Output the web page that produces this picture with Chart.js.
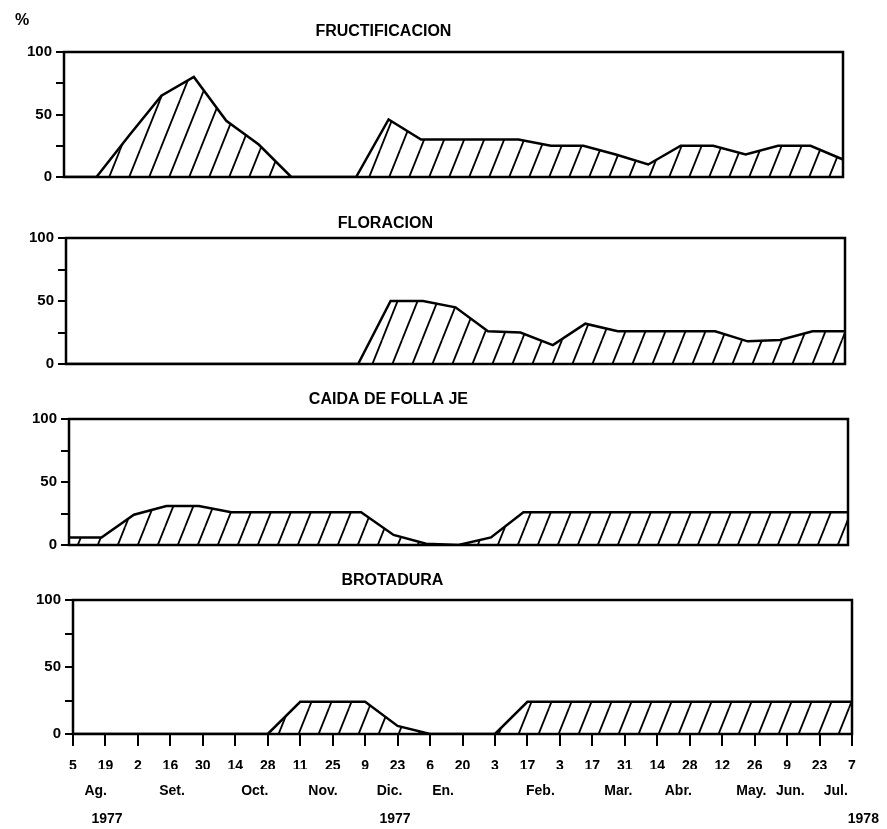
<!DOCTYPE html>
<html><head><meta charset="utf-8">
<script src="https://cdn.jsdelivr.net/npm/chart.js@4.4.1/dist/chart.umd.min.js"></script>
<style>
html,body{margin:0;padding:0;background:#fff;overflow:hidden;width:887px;height:829px;}
.p{position:absolute;width:887px;}
</style></head><body>
<div class="p" id="c0"><canvas id="k0"></canvas></div>
<div class="p" id="c1"><canvas id="k1"></canvas></div>
<div class="p" id="c2"><canvas id="k2"></canvas></div>
<div class="p" id="c3"><canvas id="k3"></canvas></div>
<script>
// ---- data ----
const dayLabels = ['5','19','2','16','30','14','28','11','25','9','23','6','20','3','17','3','17','31','14','28','12','26','9','23','7'];
const fructificacion = [0,0,33,65,80,45,26,0,0,0,46,30,30,30,30,25,25,18,10,25,25,18,25,25,14];
const floracion      = [0,0,0,0,0,0,0,0,0,0,50,50,45,26,25,15,32,26,26,26,26,18,19,26,26];
const caidaFollaje   = [6,6,24,31,31,26,26,26,26,26,8,1,0,6,26,26,26,26,26,26,26,26,26,26,26];
const brotadura      = [0,0,0,0,0,0,0,24,24,24,6,0,0,0,24,24,24,24,24,24,24,24,24,24,24];
const panelTitles = ['FRUCTIFICACION','FLORACION','CAIDA DE FOLLA JE','BROTADURA'];
const monthLabels = ['Ag.','Set.','Oct.','Nov.','Dic.','En.','Feb.','Mar.','Abr.','May.','Jun.','Jul.'];
const monthAnchors = [0.7,3.05,5.6,7.7,9.75,11.4,14.4,16.8,18.65,20.9,22.1,23.5];
const yearLabels = ['1977','1977','1978'];
const yearAnchors = [1.05,9.92,24.35];
const yTickValues = [0,50,100];

const series = [fructificacion, floracion, caidaFollaje, brotadura];

// ---- layout (not data) ----
const layout = [
  {top:0,   h:190, padTop:52, padBottom:10, left:0, titleOff:20},
  {top:190, h:187, padTop:48, padBottom:10, left:2, titleOff:14},
  {top:377, h:181, padTop:42, padBottom:10, left:5, titleOff:19},
  {top:558, h:271, padTop:42, padBottom:60, left:9, titleOff:19}
];
const FONT = '"Liberation Sans", Arial, sans-serif';

function makeHatch(){
  const w = 20, h = 50;
  const c = document.createElement('canvas');
  c.width = w; c.height = h;
  const g = c.getContext('2d');
  g.strokeStyle = '#000'; g.lineWidth = 1.8;
  for (const x0 of [-w, 0, w]) {
    g.beginPath(); g.moveTo(x0, h); g.lineTo(x0 + w, 0); g.stroke();
  }
  return g.createPattern(c, 'repeat');
}
const hatch = makeHatch();

const framePlugin = {
  id: 'frame',
  afterDatasetsDraw(chart){
    const {ctx, chartArea:a} = chart;
    ctx.save(); ctx.strokeStyle = '#000'; ctx.lineWidth = 2.5;
    ctx.strokeRect(a.left, a.top, a.right - a.left, a.bottom - a.top);
    ctx.restore();
  }
};
const panelText = {
  id: 'panelText',
  afterDraw(chart, args, opts){
    const {ctx, chartArea:a} = chart;
    ctx.save(); ctx.fillStyle = '#000'; ctx.textAlign = 'center'; ctx.textBaseline = 'middle';
    ctx.font = 'bold 16px ' + FONT;
    ctx.fillText(opts.text, a.left + 0.41 * (a.right - a.left), a.top - opts.off);
    if (opts.percent) { ctx.font = 'bold 16px ' + FONT; ctx.fillText('%', 22, 21); }
    if (opts.months) {
      const x = chart.scales.x;
      ctx.font = 'bold 14px ' + FONT;
      monthLabels.forEach((m, i) => ctx.fillText(m, x.getPixelForValue(monthAnchors[i]), a.bottom + 57));
      yearLabels.forEach((m, i) => ctx.fillText(m, x.getPixelForValue(yearAnchors[i]), a.bottom + 85));
    }
    ctx.restore();
  }
};

series.forEach((data, i) => {
  const L = layout[i];
  const div = document.getElementById('c' + i);
  div.style.top = L.top + 'px'; div.style.left = L.left + 'px'; div.style.height = L.h + 'px';
  const last = i === 3;
  new Chart(document.getElementById('k' + i), {
    type: 'line',
    data: { labels: dayLabels, datasets: [{
      data, borderColor:'#000', borderWidth:2.5, pointRadius:0, fill:'origin',
      backgroundColor: hatch, tension:0
    }]},
    options: {
      responsive:true, maintainAspectRatio:false, animation:false,
      layout:{ padding:{ top:L.padTop, bottom:L.padBottom, left:0, right:44 } },
      plugins:{ legend:{display:false}, tooltip:{enabled:false},
        panelText:{ text: panelTitles[i], off: L.titleOff, percent: i === 0, months: last } },
      scales:{
        x:{ display: last, offset:false,
            afterFit(s){ s.height = last ? 35 : 0; },
            ticks:{ autoSkip:false, maxRotation:0, padding:12, color:'#000', font:{family:FONT, size:14, weight:'bold'} },
            grid:{ drawOnChartArea:false, drawTicks:true, tickLength:12, color:'#000', lineWidth:2 },
            border:{ display:false } },
        y:{ min:0, max:100,
            afterFit(s){ s.width = 64; },
            ticks:{ stepSize:25, autoSkip:false, padding:4, color:'#000', font:{family:FONT, size:15, weight:'bold'},
                    callback: v => yTickValues.includes(v) ? String(v) : '' },
            grid:{ drawOnChartArea:false, drawTicks:true, tickLength:8, color:'#000', lineWidth:2 },
            border:{ display:false } }
      }
    },
    plugins:[framePlugin, panelText]
  });
});
</script>
</body></html>
